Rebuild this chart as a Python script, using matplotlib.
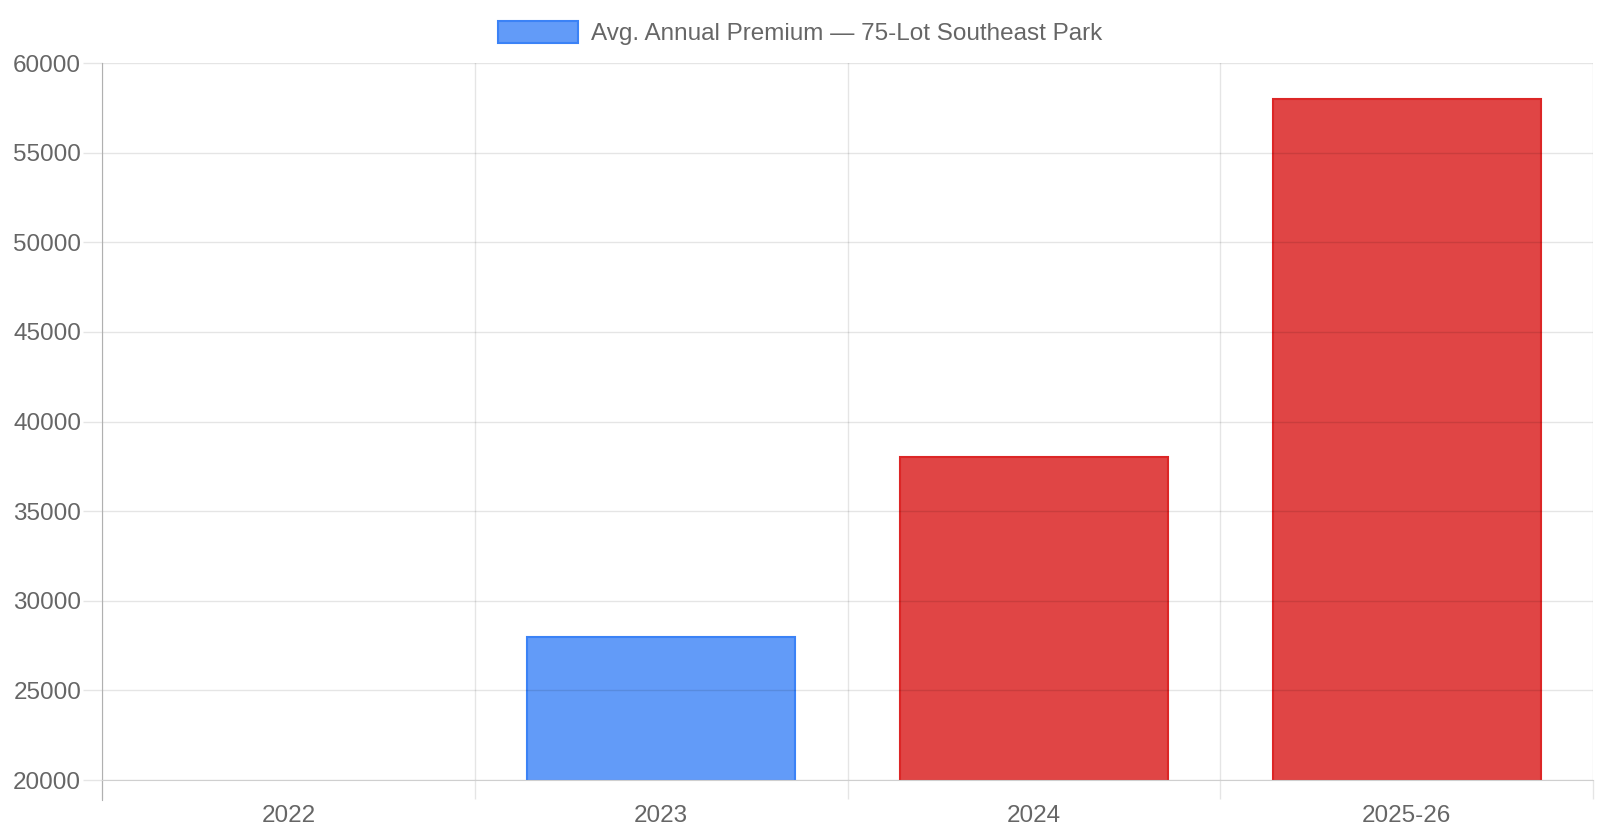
import numpy as np
import matplotlib.pyplot as plt
from matplotlib.patches import Patch

plt.rcParams['font.family'] = ['Liberation Sans', 'DejaVu Sans']

# datos
categorias = ['2022', '2023', '2024', '2025-26']
primas = [18000, 28000, 38000, 58000]
colores_relleno = ['#629bf8', '#629bf8', '#e04545', '#e04545']
colores_borde = ['#3b82f6', '#3b82f6', '#dc2626', '#dc2626']
y_ticks = [20000, 25000, 30000, 35000, 40000, 45000, 50000, 55000, 60000]
leyenda = 'Avg. Annual Premium \u2014 75-Lot Southeast Park'

gris_texto = '#666666'
grid_rgba = (0, 0, 0, 0.1)
gris_eje = '#b0b0b0'

fig = plt.figure(figsize=(16, 8.4), dpi=100)
ax = fig.add_axes([0.06375, 0.0714, 0.932, 0.8536])

x = np.arange(len(categorias))
ax.bar(x, primas, width=0.72, color=colores_relleno, edgecolor=colores_borde,
       linewidth=1.5, zorder=1)

ax.set_xlim(-0.5, len(categorias) - 0.5)
ax.set_ylim(y_ticks[0], y_ticks[-1])

# rejilla
ax.set_yticks(y_ticks)
for y in y_ticks:
    ax.axhline(y, color=grid_rgba, lw=1, zorder=2)
for b in np.arange(-0.5, len(categorias), 1.0):
    ax.axvline(b, color=grid_rgba, lw=1, zorder=2)

ax.set_xticks(x)
ax.set_xticklabels(categorias)
ax.set_xticks(np.arange(-0.5, len(categorias), 1.0), minor=True)
ax.tick_params(axis='x', which='major', length=0, pad=18, labelsize=17.5, labelcolor=gris_texto)
ax.tick_params(axis='x', which='minor', length=14, color=grid_rgba, width=1)
ax.tick_params(axis='y', length=14, color=grid_rgba, width=1, pad=1, labelsize=17.5, labelcolor=gris_texto)

for lado in ['top', 'right']:
    ax.spines[lado].set_visible(False)
ax.spines['left'].set_color(gris_eje)
ax.spines['bottom'].set_color('#cfcfcf')
ax.spines['left'].set_bounds(y_ticks[0] - 1100, y_ticks[-1])

fig.legend(handles=[Patch(facecolor='#629bf8', edgecolor='#3b82f6', linewidth=1.5, label=leyenda)],
           loc='center', bbox_to_anchor=(0.5, 1 - 33 / 840), frameon=False,
           fontsize=17.5, labelcolor=gris_texto, handlelength=3.3, handleheight=1.0,
           handletextpad=0.5)

fig.savefig('out.png', dpi=100)
